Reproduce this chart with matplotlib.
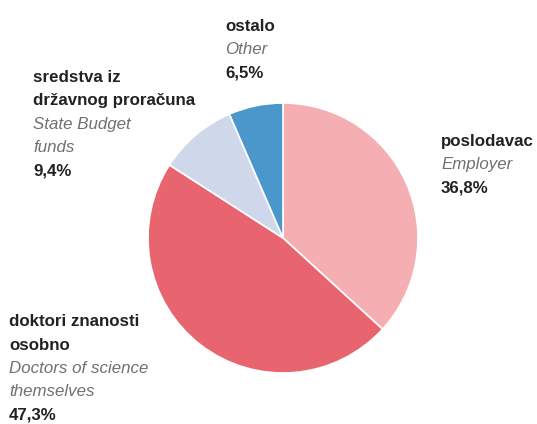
import matplotlib.pyplot as plt

# udjeli izvora financiranja (%)
shares = [36.8, 47.3, 9.4, 6.5]
labels_hr = ['poslodavac', 'doktori znanosti\nosobno', 'sredstva iz\ndržavnog proračuna', 'ostalo']
labels_en = ['Employer', 'Doctors of science\nthemselves', 'State Budget\nfunds', 'Other']
pct_text = ['36,8%', '47,3%', '9,4%', '6,5%']
colors = ['#f5aeb1', '#e8646f', '#cfd7ea', '#4b97cb']

W, H = 537, 424
fig = plt.figure(figsize=(W / 100, H / 100), dpi=100)

# pie centre (283, 238) px, radius 135 px
cx, cy, r = 283, 238, 135
ax = fig.add_axes([(cx - r) / W, (H - cy - r) / H, 2 * r / W, 2 * r / H])
ax.pie(shares, colors=colors, startangle=90, counterclock=False, radius=1,
       wedgeprops=dict(edgecolor='white', linewidth=1.2))
ax.set_xlim(-1, 1)
ax.set_ylim(-1, 1)
ax.set_aspect('auto')
ax.axis('off')

fam = ['Liberation Sans Narrow', 'DejaVu Sans Condensed', 'Liberation Sans', 'DejaVu Sans']
# label anchors (left x, top y) in pixels
anchors = [(441, 134), (9, 314), (33, 70), (225, 19)]
step = 23.5

for i in range(len(shares)):
    x, y = anchors[i]
    lines = [(t, 'bold') for t in labels_hr[i].split('\n')]
    lines += [(t, 'italic') for t in labels_en[i].split('\n')]
    lines.append((pct_text[i], 'bold'))
    for j, (t, st) in enumerate(lines):
        if st == 'bold':
            fig.text(x / W, 1 - (y + j * step) / H, t, family=fam, fontsize=12.2,
                     fontweight='bold', color='#222222', va='top', ha='left')
        else:
            fig.text(x / W, 1 - (y + j * step) / H, t, family=fam, fontsize=12.2,
                     style='italic', color='#707070', va='top', ha='left')

fig.savefig('out.png', dpi=100)
